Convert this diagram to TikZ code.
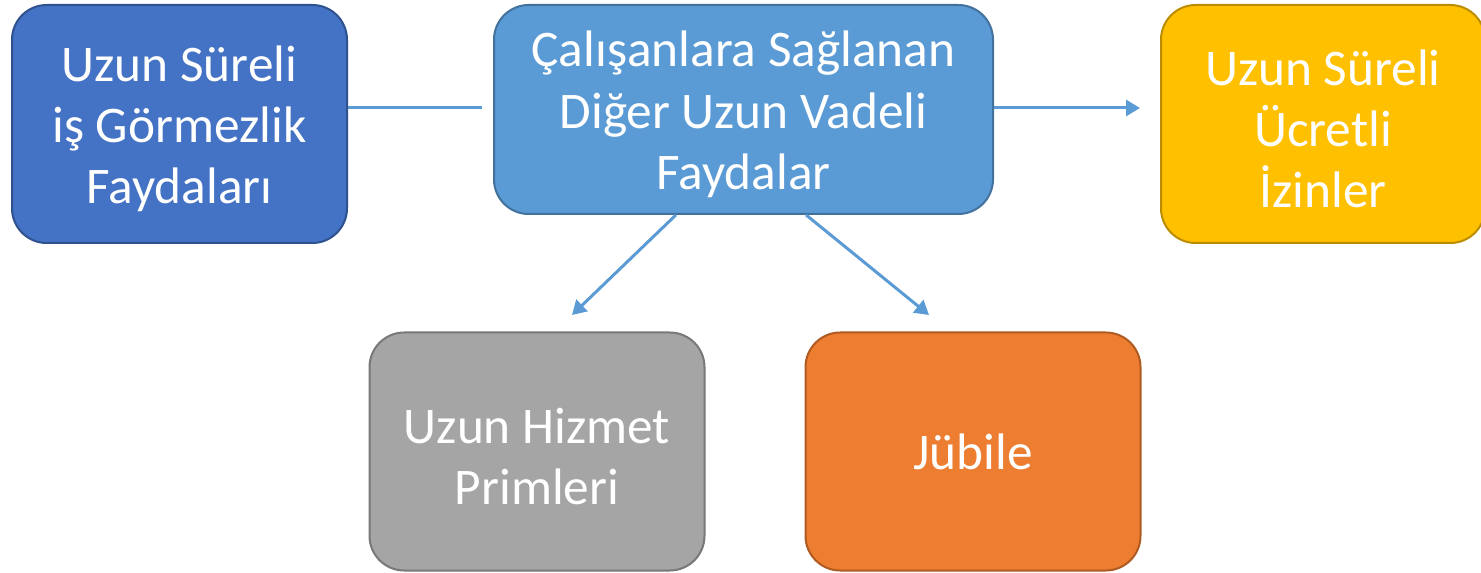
\documentclass[tikz,border=0pt]{standalone}
\usepackage{fontspec}
\setmainfont{Carlito}
\usetikzlibrary{arrows.meta, calc}
\definecolor{darkblue}{HTML}{4472C4}
\definecolor{darkblueline}{HTML}{2F528F}
\definecolor{midblue}{HTML}{5B9BD5}
\definecolor{midblueline}{HTML}{41719C}
\definecolor{goldbox}{HTML}{FFC000}
\definecolor{goldline}{HTML}{BC8C00}
\definecolor{greybox}{HTML}{A5A5A5}
\definecolor{greyline}{HTML}{787878}
\definecolor{orangebox}{HTML}{ED7D31}
\definecolor{orangeline}{HTML}{AE5A21}
\newcommand{\lift}{\rule{0pt}{34pt}}
\begin{document}
\begin{tikzpicture}[
    x=0.75pt, y=-0.75pt,
    box/.style={rounded corners=26pt, draw, line width=1.5pt, align=center, text=white,
        font=\fontsize{38.5}{46}\selectfont, inner sep=0pt},
    big_box/.style={box, minimum width=251.25pt, minimum height=178.5pt},
    link/.style={draw=midblue, line width=2.25pt},
    directed/.style={link, -{Triangle[length=10.5pt, width=12pt]}}
]
    \useasboundingbox (0,0) rectangle (1481,573);
    \node [big_box, fill=darkblue, draw=darkblueline] (L) at (179.5,124) {\lift Uzun Süreli\\iş Görmezlik\\Faydaları};
    \node [box, fill=midblue, draw=midblueline, minimum width=374.25pt, minimum height=156.75pt] (C) at (743.5,109.5) {\lift Çalışanlara Sağlanan\\Diğer Uzun Vadeli\\Faydalar};
    \node [box, fill=goldbox, draw=goldline, minimum width=243pt, minimum height=178.5pt] (R) at (1323,124) {\lift Uzun Süreli\\Ücretli\\İzinler};
    \node [big_box, fill=greybox, draw=greyline] (G) at (537,451.5) {\lift Uzun Hizmet\\Primleri};
    \node [big_box, fill=orangebox, draw=orangeline] (J) at (973,451.5) {Jübile};
    \coordinate (CL) at (482,108);
    \coordinate (CR) at (1140,108);
    \coordinate (GT) at (572,315);
    \coordinate (JT) at (929,315);
    \draw [link] (CL) -- (CL -| L.east);
    \draw [directed] (CR -| C.east) -- (CR);
    \draw [directed] ($(C.south west)!0.365!(C.south east)$) -- (GT);
    \draw [directed] ($(C.south west)!0.625!(C.south east)$) -- (JT);
\end{tikzpicture}
\end{document}
